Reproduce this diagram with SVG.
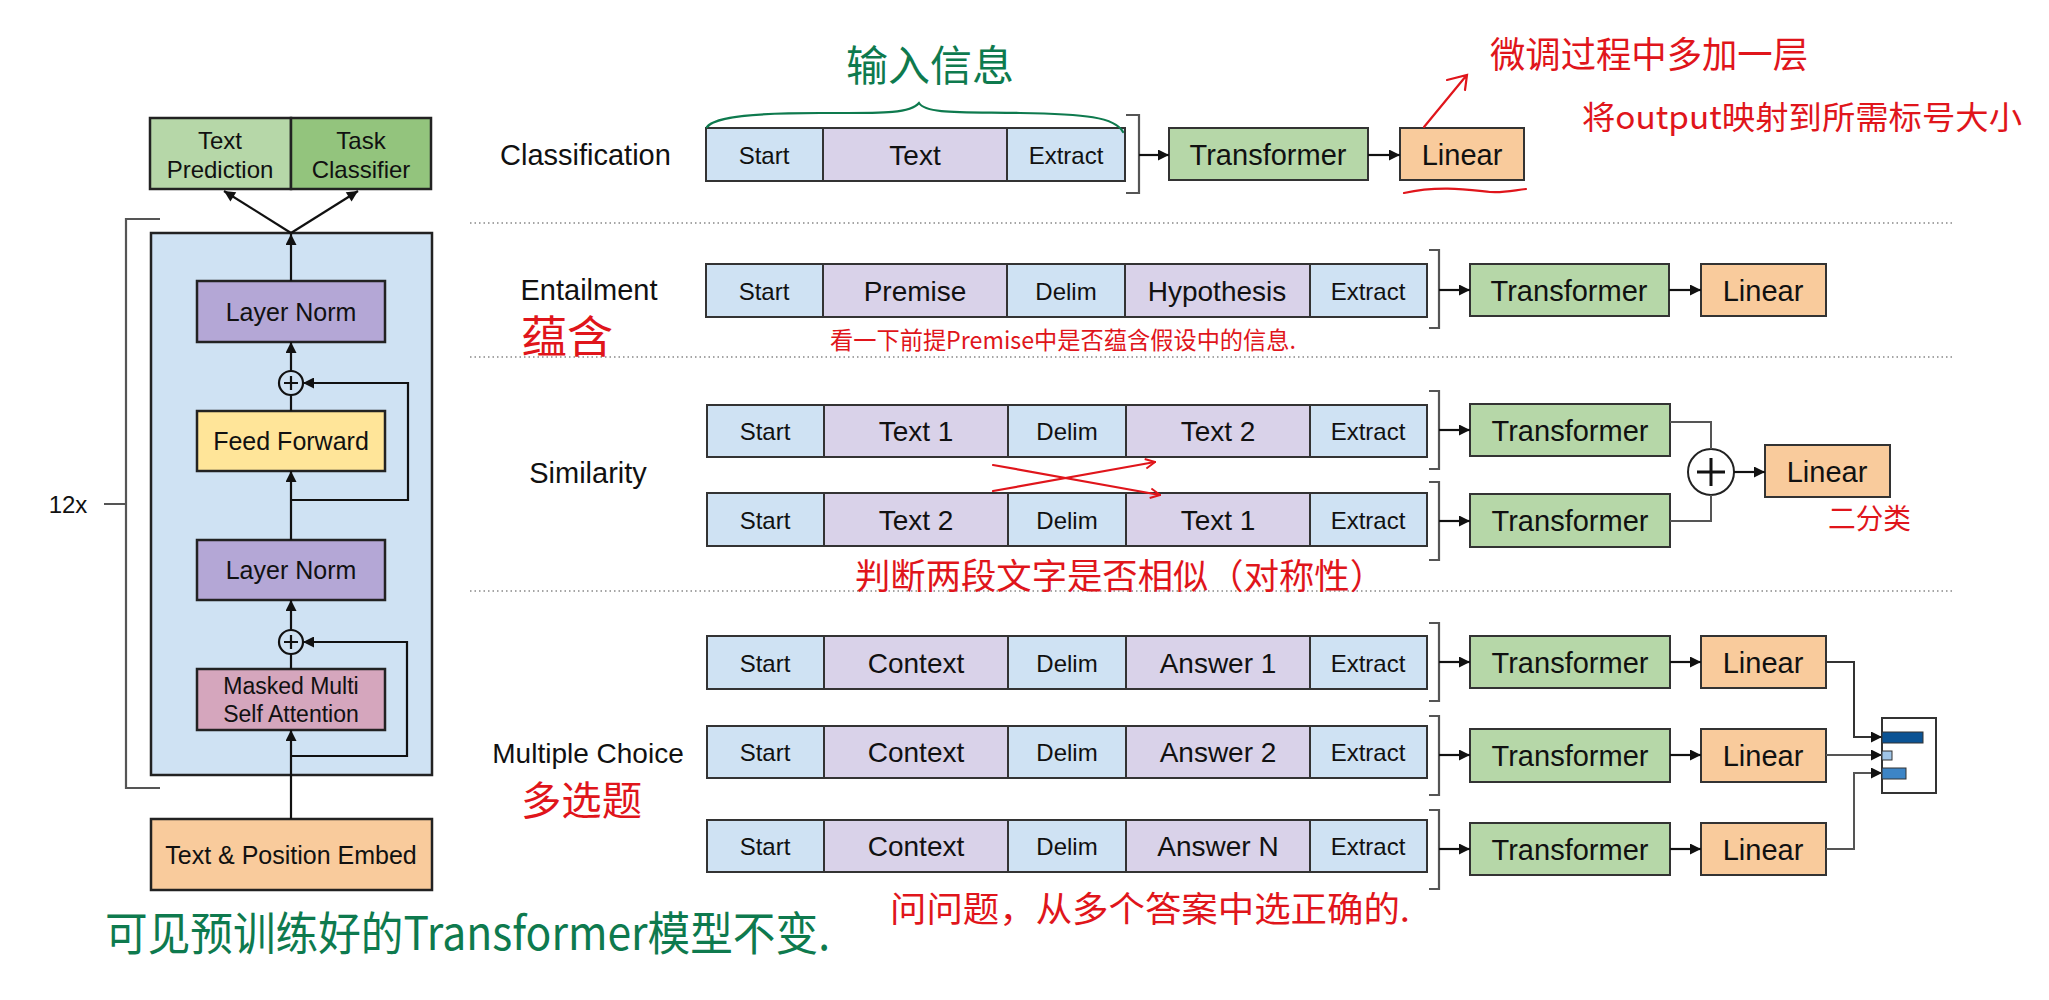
<svg xmlns="http://www.w3.org/2000/svg" width="2049" height="1000" viewBox="0 0 2049 1000">
<style>
.bx{stroke:#222;stroke-width:2.5}
.tk{stroke:#333;stroke-width:2}
.blue{fill:#cfe2f3}.purp{fill:#d9d2e9}.green{fill:#b6d7a8}.dgreen{fill:#93c47d}.orange{fill:#f9cb9c}.ln{fill:#b4a7d6}.ff{fill:#ffe599}.mm{fill:#d5a6bd}
.t{font-family:"Liberation Sans",Arial,sans-serif;fill:#111;text-anchor:middle;dominant-baseline:central}
.lbl{font-family:"Liberation Sans",Arial,sans-serif;fill:#111;font-size:29px;dominant-baseline:central}
.s24{font-size:24px}.s28{font-size:28px}.s29{font-size:29px}
.ar{fill:none;stroke:#111;stroke-width:2.2}
.br{fill:none;stroke:#555;stroke-width:2.2}
.dot{stroke:#888;stroke-width:1.6;stroke-dasharray:1.5 3}
.red{font-family:"Noto Sans CJK SC",sans-serif;fill:#e0151b}
.grn{font-family:"Noto Sans CJK SC",sans-serif;fill:#0e7a4e}
.rl{fill:none;stroke:#e0151b;stroke-width:2.2;stroke-linecap:round}
.gl{fill:none;stroke:#0e7a4e;stroke-width:2.2;stroke-linecap:round}
</style>
<defs>
<marker id="ah" viewBox="0 0 10 10" refX="10" refY="5" markerWidth="12" markerHeight="11" markerUnits="userSpaceOnUse" orient="auto"><path d="M0,0 L10,5 L0,10 z" fill="#111"/></marker>
<marker id="rh" viewBox="0 0 10 10" refX="9" refY="5" markerWidth="12" markerHeight="12" markerUnits="userSpaceOnUse" orient="auto"><path d="M1,1 L9,5 L1,9" fill="none" stroke="#e0151b" stroke-width="1.6"/></marker>
</defs>

<!-- Left panel -->
<g id="out-text-prediction"><rect x="150" y="118" width="141" height="71" class="bx green"/><text x="220" y="140" class="t s24">Text</text><text x="220" y="169" class="t s24">Prediction</text></g>
<g id="out-task-classifier"><rect x="291" y="118" width="140" height="71" class="bx dgreen"/><text x="361" y="140" class="t s24">Task</text><text x="361" y="169" class="t s24">Classifier</text></g>
<g id="block"><rect x="151" y="233" width="281" height="542" class="bx blue"/></g>
<g id="bracket-12x"><path d="M160,219 H126 V788 H160 M104,504 H126" class="br"/><text x="68" y="504" class="t s24">12x</text></g>
<g id="layer-norm-top"><rect x="197" y="281" width="188" height="61" class="bx ln"/><text x="291" y="312" class="t" style="font-size:25px">Layer Norm</text></g>
<g id="plus-top"><circle cx="291" cy="383" r="12" fill="none" stroke="#111" stroke-width="2.2"/><path d="M284,383 H298 M291,376 V390" stroke="#111" stroke-width="2.2"/></g>
<g id="feed-forward"><rect x="197" y="411" width="188" height="60" class="bx ff"/><text x="291" y="441" class="t" style="font-size:25px">Feed Forward</text></g>
<g id="layer-norm-bottom"><rect x="197" y="540" width="188" height="60" class="bx ln"/><text x="291" y="570" class="t" style="font-size:25px">Layer Norm</text></g>
<g id="plus-bottom"><circle cx="291" cy="642" r="12" fill="none" stroke="#111" stroke-width="2.2"/><path d="M284,642 H298 M291,635 V649" stroke="#111" stroke-width="2.2"/></g>
<g id="masked-attn"><rect x="197" y="669" width="188" height="61" class="bx mm"/><text x="291" y="686" class="t" style="font-size:23px">Masked Multi</text><text x="291" y="714" class="t" style="font-size:23px">Self Attention</text></g>
<g id="embed"><rect x="151" y="819" width="281" height="71" class="bx orange"/><text x="291" y="855" class="t" style="font-size:25px">Text &amp; Position Embed</text></g>

<!-- Right panel -->
<g id="labels">
<text x="500" y="155" class="lbl">Classification</text>
<text x="589" y="290" class="t s29">Entailment</text>
<text x="588" y="473" class="t s29">Similarity</text>
<text x="588" y="753" class="t s28">Multiple Choice</text>
</g>

<g id="row-classification">
<rect x="706" y="128" width="117" height="53" class="tk blue"/><text x="764" y="155" class="t s24">Start</text>
<rect x="823" y="128" width="184" height="53" class="tk purp"/><text x="915" y="155" class="t s28">Text</text>
<rect x="1007" y="128" width="118" height="53" class="tk blue"/><text x="1066" y="155" class="t s24">Extract</text>
</g>
<g id="row-entailment">
<rect x="706" y="264" width="117" height="53" class="tk blue"/><text x="764" y="291" class="t s24">Start</text>
<rect x="823" y="264" width="184" height="53" class="tk purp"/><text x="915" y="291" class="t s28">Premise</text>
<rect x="1007" y="264" width="118" height="53" class="tk blue"/><text x="1066" y="291" class="t s24">Delim</text>
<rect x="1125" y="264" width="185" height="53" class="tk purp"/><text x="1217" y="291" class="t s28">Hypothesis</text>
<rect x="1310" y="264" width="117" height="53" class="tk blue"/><text x="1368" y="291" class="t s24">Extract</text>
</g>
<g id="row-similarity-1">
<rect x="707" y="405" width="117" height="52" class="tk blue"/><text x="765" y="431" class="t s24">Start</text>
<rect x="824" y="405" width="184" height="52" class="tk purp"/><text x="916" y="431" class="t s28">Text 1</text>
<rect x="1008" y="405" width="118" height="52" class="tk blue"/><text x="1067" y="431" class="t s24">Delim</text>
<rect x="1126" y="405" width="184" height="52" class="tk purp"/><text x="1218" y="431" class="t s28">Text 2</text>
<rect x="1310" y="405" width="117" height="52" class="tk blue"/><text x="1368" y="431" class="t s24">Extract</text>
</g>
<g id="row-similarity-2">
<rect x="707" y="493" width="117" height="53" class="tk blue"/><text x="765" y="520" class="t s24">Start</text>
<rect x="824" y="493" width="184" height="53" class="tk purp"/><text x="916" y="520" class="t s28">Text 2</text>
<rect x="1008" y="493" width="118" height="53" class="tk blue"/><text x="1067" y="520" class="t s24">Delim</text>
<rect x="1126" y="493" width="184" height="53" class="tk purp"/><text x="1218" y="520" class="t s28">Text 1</text>
<rect x="1310" y="493" width="117" height="53" class="tk blue"/><text x="1368" y="520" class="t s24">Extract</text>
</g>
<g id="row-mc-1">
<rect x="707" y="636" width="117" height="53" class="tk blue"/><text x="765" y="663" class="t s24">Start</text>
<rect x="824" y="636" width="184" height="53" class="tk purp"/><text x="916" y="663" class="t s28">Context</text>
<rect x="1008" y="636" width="118" height="53" class="tk blue"/><text x="1067" y="663" class="t s24">Delim</text>
<rect x="1126" y="636" width="184" height="53" class="tk purp"/><text x="1218" y="663" class="t s28">Answer 1</text>
<rect x="1310" y="636" width="117" height="53" class="tk blue"/><text x="1368" y="663" class="t s24">Extract</text>
</g>
<g id="row-mc-2">
<rect x="707" y="726" width="117" height="52" class="tk blue"/><text x="765" y="752" class="t s24">Start</text>
<rect x="824" y="726" width="184" height="52" class="tk purp"/><text x="916" y="752" class="t s28">Context</text>
<rect x="1008" y="726" width="118" height="52" class="tk blue"/><text x="1067" y="752" class="t s24">Delim</text>
<rect x="1126" y="726" width="184" height="52" class="tk purp"/><text x="1218" y="752" class="t s28">Answer 2</text>
<rect x="1310" y="726" width="117" height="52" class="tk blue"/><text x="1368" y="752" class="t s24">Extract</text>
</g>
<g id="row-mc-n">
<rect x="707" y="820" width="117" height="52" class="tk blue"/><text x="765" y="846" class="t s24">Start</text>
<rect x="824" y="820" width="184" height="52" class="tk purp"/><text x="916" y="846" class="t s28">Context</text>
<rect x="1008" y="820" width="118" height="52" class="tk blue"/><text x="1067" y="846" class="t s24">Delim</text>
<rect x="1126" y="820" width="184" height="52" class="tk purp"/><text x="1218" y="846" class="t s28">Answer N</text>
<rect x="1310" y="820" width="117" height="52" class="tk blue"/><text x="1368" y="846" class="t s24">Extract</text>
</g>

<g id="transformers">
<rect x="1169" y="128" width="199" height="52" class="tk green"/><text x="1268" y="155" class="t s29">Transformer</text>
<rect x="1470" y="264" width="199" height="52" class="tk green"/><text x="1569" y="291" class="t s29">Transformer</text>
<rect x="1470" y="404" width="200" height="52" class="tk green"/><text x="1570" y="431" class="t s29">Transformer</text>
<rect x="1470" y="494" width="200" height="53" class="tk green"/><text x="1570" y="521" class="t s29">Transformer</text>
<rect x="1470" y="636" width="200" height="52" class="tk green"/><text x="1570" y="663" class="t s29">Transformer</text>
<rect x="1470" y="729" width="200" height="53" class="tk green"/><text x="1570" y="756" class="t s29">Transformer</text>
<rect x="1470" y="823" width="200" height="52" class="tk green"/><text x="1570" y="850" class="t s29">Transformer</text>
</g>
<g id="linears">
<rect x="1400" y="128" width="124" height="52" class="tk orange"/><text x="1462" y="155" class="t s29">Linear</text>
<rect x="1701" y="264" width="125" height="52" class="tk orange"/><text x="1763" y="291" class="t s29">Linear</text>
<rect x="1765" y="445" width="125" height="52" class="tk orange"/><text x="1827" y="472" class="t s29">Linear</text>
<rect x="1701" y="636" width="125" height="52" class="tk orange"/><text x="1763" y="663" class="t s29">Linear</text>
<rect x="1701" y="729" width="125" height="53" class="tk orange"/><text x="1763" y="756" class="t s29">Linear</text>
<rect x="1701" y="823" width="125" height="52" class="tk orange"/><text x="1763" y="850" class="t s29">Linear</text>
</g>
<g id="sim-plus"><circle cx="1711" cy="472" r="23" fill="#fff" stroke="#222" stroke-width="2"/><path d="M1697,472 H1725 M1711,458 V486" stroke="#111" stroke-width="3"/></g>
<g id="mc-output">
<rect x="1882" y="718" width="54" height="75" fill="#fff" stroke="#333" stroke-width="2"/>
<rect x="1882" y="732" width="41" height="11" fill="#0b5394" stroke="#333" stroke-width="1"/>
<rect x="1882" y="751" width="10" height="9" fill="#9fc5e8" stroke="#333" stroke-width="1"/>
<rect x="1882" y="768" width="24" height="11" fill="#3d85c6" stroke="#333" stroke-width="1"/>
</g>

<g id="connectors">
<path d="M291,819 V730" class="ar" marker-end="url(#ah)"/>
<path d="M291,756 H407 V642 H303" class="ar" marker-end="url(#ah)"/>
<path d="M291,669 V654" class="ar"/>
<path d="M291,630 V600" class="ar" marker-end="url(#ah)"/>
<path d="M291,540 V471" class="ar" marker-end="url(#ah)"/>
<path d="M291,500 H408 V383 H303" class="ar" marker-end="url(#ah)"/>
<path d="M291,411 V395" class="ar"/>
<path d="M291,371 V342" class="ar" marker-end="url(#ah)"/>
<path d="M291,281 V234" class="ar" marker-end="url(#ah)"/>
<path d="M291,233 L224,191" class="ar" marker-end="url(#ah)"/>
<path d="M291,233 L358,191" class="ar" marker-end="url(#ah)"/>
<path d="M1126,115 H1139 V193 H1126" class="br"/>
<path d="M1429,250 H1439 V328 H1429" class="br"/>
<path d="M1429,391 H1439 V469 H1429" class="br"/>
<path d="M1429,482 H1439 V560 H1429" class="br"/>
<path d="M1429,623 H1439 V701 H1429" class="br"/>
<path d="M1429,716 H1439 V795 H1429" class="br"/>
<path d="M1429,810 H1439 V889 H1429" class="br"/>
<path d="M1139,155 H1169" class="ar" marker-end="url(#ah)"/>
<path d="M1368,155 H1400" class="ar" marker-end="url(#ah)"/>
<path d="M1439,290 H1470" class="ar" marker-end="url(#ah)"/>
<path d="M1669,290 H1701" class="ar" marker-end="url(#ah)"/>
<path d="M1439,430 H1470" class="ar" marker-end="url(#ah)"/>
<path d="M1439,521 H1470" class="ar" marker-end="url(#ah)"/>
<path d="M1670,422 H1711 V449" fill="none" stroke="#555" stroke-width="2"/>
<path d="M1670,521 H1711 V495" fill="none" stroke="#555" stroke-width="2"/>
<path d="M1734,472 H1765" class="ar" marker-end="url(#ah)"/>
<path d="M1439,662 H1470" class="ar" marker-end="url(#ah)"/>
<path d="M1439,755 H1470" class="ar" marker-end="url(#ah)"/>
<path d="M1439,849 H1470" class="ar" marker-end="url(#ah)"/>
<path d="M1670,662 H1701" class="ar" marker-end="url(#ah)"/>
<path d="M1670,755 H1701" class="ar" marker-end="url(#ah)"/>
<path d="M1670,849 H1701" class="ar" marker-end="url(#ah)"/>
<path d="M1826,662 H1854 V737 H1882" fill="none" stroke="#333" stroke-width="2" marker-end="url(#ah)"/>
<path d="M1826,755 H1882" fill="none" stroke="#555" stroke-width="2" marker-end="url(#ah)"/>
<path d="M1826,849 H1854 V773 H1882" fill="none" stroke="#555" stroke-width="2" marker-end="url(#ah)"/>
</g>

<g id="separators">
<line x1="470" y1="223" x2="1953" y2="223" class="dot"/>
<line x1="470" y1="357" x2="1953" y2="357" class="dot"/>
<line x1="470" y1="591" x2="1954" y2="591" class="dot"/>
</g>

<g id="annotations">
<path d="M707,127 C715,116 760,113 820,113 C880,113 910,114 919,103 C926,114 960,112 1020,113 C1085,114 1115,117 1123,132" class="gl"/>
<text x="930" y="62" class="grn" style="font-size:42px" text-anchor="middle" dominant-baseline="central">输入信息</text>
<path d="M1424,127 L1466,76 M1447,80 L1467,75 L1465,90" class="rl"/>
<path d="M1404,193 C1440,185 1470,190 1490,192 C1505,193 1515,190 1526,189" class="rl"/>
<text x="1490" y="52" class="red" style="font-size:36px" dominant-baseline="central" textLength="318" lengthAdjust="spacingAndGlyphs">微调过程中多加一层</text>
<text x="1582" y="115" class="red" style="font-size:32px" dominant-baseline="central" textLength="440" lengthAdjust="spacingAndGlyphs">将output映射到所需标号大小</text>
<text x="521" y="334" class="red" style="font-size:44px" dominant-baseline="central" textLength="92" lengthAdjust="spacingAndGlyphs">蕴含</text>
<text x="830" y="338" class="red" style="font-size:24px" dominant-baseline="central" textLength="466" lengthAdjust="spacingAndGlyphs">看一下前提Premise中是否蕴含假设中的信息.</text>
<path d="M993,465 L1160,495" class="rl" marker-end="url(#rh)"/>
<path d="M993,491 L1155,462" class="rl" marker-end="url(#rh)"/>
<text x="855" y="573" class="red" style="font-size:35px" dominant-baseline="central" textLength="530" lengthAdjust="spacingAndGlyphs">判断两段文字是否相似（对称性）</text>
<text x="1828" y="517" class="red" style="font-size:28px" dominant-baseline="central" textLength="83" lengthAdjust="spacingAndGlyphs">二分类</text>
<text x="521" y="798" class="red" style="font-size:40px" dominant-baseline="central" textLength="121" lengthAdjust="spacingAndGlyphs">多选题</text>
<text x="890" y="906" class="red" style="font-size:35px" dominant-baseline="central" textLength="520" lengthAdjust="spacingAndGlyphs">问问题，从多个答案中选正确的.</text>
<text x="105" y="930" class="grn" style="font-size:46px" dominant-baseline="central" textLength="725" lengthAdjust="spacingAndGlyphs">可见预训练好的Transformer模型不变.</text>
</g>
</svg>
